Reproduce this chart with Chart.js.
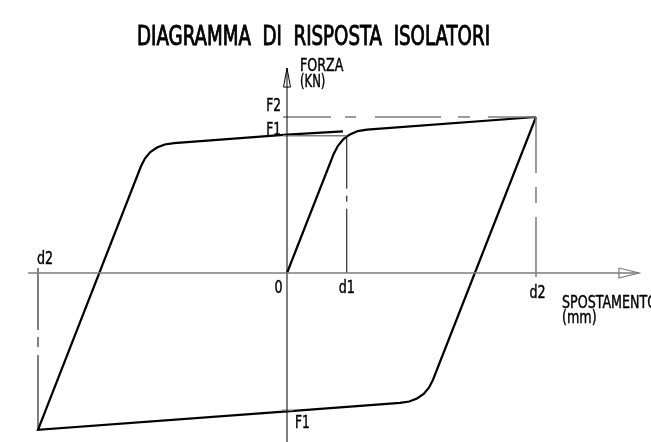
<!DOCTYPE html>
<html>
<head>
<meta charset="utf-8">
<title>Diagramma di risposta isolatori</title>
<script src="https://cdn.jsdelivr.net/npm/chart.js@4"></script>
<style>
    html, body { margin: 0; padding: 0; background: #fff; }
    #wrap { width: 651px; height: 442px; position: relative; }
</style>
</head>
<body>
<div id="wrap"><canvas id="chart"></canvas></div>
<script>
// ============================================================
// Data — values (d2 = 100, F2 = 100)
// ============================================================

// hysteresis loop (starts at +d2/F2, goes down, left, up, back right)
const loopX = [100, 58.6, 57.0, 54.9, 52.2, 49.1, 45.4, 0, -100, -58.6, -57.0, -54.9, -52.2, -49.1, -45.4, 0, 22.5];
const loopY = [100, -68.6, -73.5, -77.5, -80.4, -82.4, -83.3, -88.7, -100.5, 68.6, 73.5, 77.5, 80.4, 82.4, 83.3, 88.7, 90.8];

// first loading branch from the origin
const virginX = [0, 18.7, 20.4, 22.6, 23.9, 25.3, 28.4, 32.1, 100];
const virginY = [0, 76.1, 81.4, 85.7, 87.4, 88.8, 91.0, 91.9, 100];

// reference values
const D1 = 24;
const D2 = 100;
const F1 = 88;
const F2 = 100;

// tick labels
const xTickLabels = ['d2', '0', 'd1', 'd2'];
const xTickValues = [-D2, 0, D1, D2];
const yTickLabels = ['F2', 'F1', 'F1'];
const yTickValues = [F2, F1, -F1];

const TITLE = 'DIAGRAMMA  DI  RISPOSTA  ISOLATORI';
const X_AXIS_LABEL = ['SPOSTAMENTO', '(mm)'];
const Y_AXIS_LABEL = ['FORZA', '(KN)'];

// ============================================================
// Helpers
// ============================================================
const FONT = '"Liberation Sans Narrow", "DejaVu Sans Condensed", sans-serif';
const GREY = '#7c7c7c';

const pts = (xs, ys) => xs.map((x, i) => ({ x, y: ys[i] }));

function line(data, color, width, dash) {
    return {
        data,
        showLine: true,
        borderColor: color,
        borderWidth: width,
        borderDash: dash || [],
        pointRadius: 0,
        tension: 0,
        fill: false
    };
}

// CAD-like text: fill plus a thin stroke for the pen weight
function drawText(ctx, str, x, y, size, align, sx, pen) {
    ctx.save();
    ctx.font = `${size}px ${FONT}`;
    ctx.fillStyle = '#000';
    ctx.strokeStyle = '#000';
    ctx.lineWidth = pen || 0.4;
    ctx.textAlign = align;
    ctx.textBaseline = 'alphabetic';
    ctx.translate(x, y);
    ctx.scale(sx || 1, 1);
    ctx.fillText(str, 0, 0);
    ctx.strokeText(str, 0, 0);
    ctx.restore();
}

// labels drawn on top of the plot, placed via the (hidden) scales
const labelPlugin = {
    id: 'labels',
    afterDraw(chart) {
        const ctx = chart.ctx;
        const xs = chart.scales.x, ys = chart.scales.y;
        const px = v => xs.getPixelForValue(v);
        const py = v => ys.getPixelForValue(v);
        const ax = px(0), ay = py(0);

        // title, stretched to the drawing width
        ctx.save();
        ctx.font = `26px ${FONT}`;
        const w = ctx.measureText(TITLE).width;
        ctx.restore();
        drawText(ctx, TITLE, 313.5, 45, 26, 'center', 353 / w, 0.9);

        // y ticks
        drawText(ctx, yTickLabels[0], ax - 6, py(yTickValues[0]) - 6.5, 17, 'right', 0.8);
        drawText(ctx, yTickLabels[1], ax - 6, py(yTickValues[1]) - 0.5, 17, 'right', 0.8);
        drawText(ctx, yTickLabels[2], ax + 8, py(yTickValues[2]) + 18, 17, 'left', 0.8);

        // x ticks
        drawText(ctx, xTickLabels[0], px(xTickValues[0]) - 1, ay - 9, 17, 'left', 0.83);
        drawText(ctx, xTickLabels[1], px(xTickValues[1]) - 8.5, ay + 19.5, 17, 'center', 0.83);
        drawText(ctx, xTickLabels[2], px(xTickValues[2]), ay + 19.5, 17, 'center', 0.83);
        drawText(ctx, xTickLabels[3], px(xTickValues[3]) + 1.5, ay + 24.5, 17, 'center', 0.83);

        // axis names
        drawText(ctx, Y_AXIS_LABEL[0], ax + 13, 70.5, 17, 'left', 0.83);
        drawText(ctx, Y_AXIS_LABEL[1], ax + 13, 86.5, 17, 'left', 0.76);
        drawText(ctx, X_AXIS_LABEL[0], 562, ay + 34.5, 17, 'left', 0.83);
        drawText(ctx, X_AXIS_LABEL[1], 562, ay + 49.5, 17, 'left', 0.83);
    }
};

// ============================================================
// Chart
// ============================================================
const datasets = [
    // axes + arrow heads
    line([{ x: -104, y: 0 }, { x: 141.4, y: 0 }], GREY, 1.5),
    line([{ x: 133.3, y: 3.2 }, { x: 141.4, y: 0 }, { x: 133.3, y: -3.2 }, { x: 133.3, y: 3.2 }], GREY, 1.2),
    line([{ x: 0, y: -108.4 }, { x: 0, y: 131.4 }], '#000', 1),
    line([{ x: -1.4, y: 119.2 }, { x: 0, y: 131.4 }, { x: 1.4, y: 119.2 }, { x: -1.4, y: 119.2 }], '#000', 1),

    // reference lines
    line([{ x: -1.6, y: F2 }, { x: D2, y: F2 }], GREY, 1.5, [48, 14, 11, 19, 66, 17, 12, 18, 60]),
    line([{ x: -1.6, y: F1 }, { x: D1, y: F1 }], GREY, 1.5),
    line([{ x: -2, y: -F1 }, { x: 2.4, y: -F1 }], GREY, 1.5),
    line([{ x: D1, y: F1 }, { x: D1, y: 0 }], '#000', 1, [53, 7, 6, 7, 200]),
    line([{ x: D2, y: F2 }, { x: D2, y: -2.5 }], GREY, 1.5, [56, 14, 16, 14, 200]),
    line([{ x: -D2, y: 3.2 }, { x: -D2, y: -100.5 }], '#000', 1, [62, 7, 10, 8, 200]),

    // response curves
    line(pts(virginX, virginY), '#000', 2.2),
    line(pts(loopX, loopY), '#000', 2.2)
];

new Chart(document.getElementById('chart'), {
    type: 'scatter',
    data: { datasets },
    options: {
        responsive: true,
        maintainAspectRatio: false,
        animation: false,
        layout: { padding: 0 },
        plugins: {
            legend: { display: false },
            tooltip: { enabled: false },
            title: { display: false }
        },
        scales: {
            x: { type: 'linear', min: -115.26, max: 146.19, display: false },
            y: { type: 'linear', min: -108.33, max: 175.0, display: false }
        }
    },
    plugins: [labelPlugin]
});
</script>
</body>
</html>
